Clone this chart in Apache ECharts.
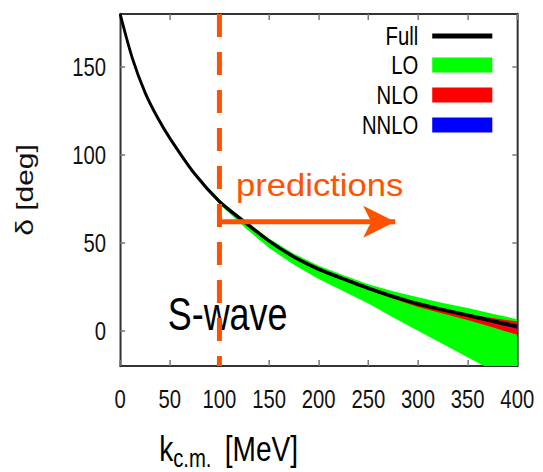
<!DOCTYPE html>
<html><head><meta charset="utf-8">
<script src="https://cdn.jsdelivr.net/npm/echarts@6/dist/echarts.min.js"></script>
<style>
html,body{margin:0;padding:0;background:#fff;overflow:hidden;width:543px;height:472px}
#c{width:696px;height:472px;transform:scaleX(0.7802);transform-origin:0 0}
</style>
</head><body><div id="c"></div>
<script>
// ---- data ----
const xs       = [0, 12.5, 25, 37.5, 50, 75, 100, 125, 150, 175, 200, 225, 250, 275, 300, 325, 350, 375, 400];
const fullVals = [180, 154.5, 135.5, 121.3, 109.5, 89.2, 73.5, 62, 51, 42, 35, 29.5, 24.2, 19.5, 15.3, 12, 8.8, 5.6, 2.4];
const loLow    = [180, 154.5, 135.5, 121.2, 109.3, 88.7, 72, 59, 47, 37.5, 29.5, 22.5, 15.5, 7.5, 0, -7.5, -15, -22.5, -30];
const loHigh   = [180, 154.5, 135.6, 121.5, 109.8, 89.8, 74.5, 63, 52.5, 43.8, 37, 31.5, 26.5, 22.5, 19, 15.8, 12.9, 9.7, 6.6];
const nloLow   = [180, 154.5, 135.5, 121.3, 109.5, 89, 73.2, 61.6, 50.5, 41.4, 34.3, 28.6, 23.2, 18.2, 13.5, 9.8, 6.2, 2, -2.3];
const nloHigh  = [180, 154.5, 135.5, 121.3, 109.5, 89.2, 73.6, 62.1, 51.1, 42.2, 35.3, 29.8, 24.6, 20, 15.9, 12.6, 9.6, 7.3, 5.3];
const nnloLow  = [180, 154.5, 135.5, 121.3, 109.5, 89.2, 73.4, 61.9, 50.9, 41.9, 34.9, 29.3, 24, 19.2, 14.8, 11.4, 8, 4.6, 1.2];
const nnloHigh = [180, 154.5, 135.5, 121.3, 109.5, 89.2, 73.6, 62.1, 51.1, 42.1, 35.1, 29.7, 24.5, 19.8, 15.6, 12.5, 9.4, 6.4, 3.6];
const xTicks   = [0, 50, 100, 150, 200, 250, 300, 350, 400];
const yTicks   = [0, 50, 100, 150];
const cutX     = 100;            // dashed line position
const arrowY   = 62;             // predictions arrow
const arrowX   = [100, 277];

const ORANGE = '#ff5200';
const FONT = '"Liberation Sans", Arial, Helvetica, sans-serif';

function pairs(a) { return xs.map((x, i) => [x, a[i]]); }
function band(name, lo, hi, color) {
  return {
    type: 'custom', name: name, silent: true, clip: true,
    itemStyle: { color: color },
    data: xs.map((x, i) => [x, lo[i], hi[i]]),
    encode: { x: 0, y: [1, 2] },
    renderItem: function (params, api) {
      if (params.dataIndexInside !== 0) return null;
      const n = params.dataInsideLength;
      const pts = [];
      for (let i = 0; i < n; i++) pts.push(api.coord([api.value(0, i), api.value(2, i)]));
      for (let i = n - 1; i >= 0; i--) pts.push(api.coord([api.value(0, i), api.value(1, i)]));
      const cs = params.coordSys;
      return {
        type: 'polygon', shape: { points: pts },
        style: { fill: color, stroke: null },
        clipPath: { type: 'rect', shape: { x: cs.x, y: cs.y, width: cs.width, height: cs.height } }
      };
    }
  };
}

const labelStyle = { fontSize: 26, fontFamily: FONT, color: '#111' };
function xAx(pos, showLabel) {
  return {
    type: 'value', position: pos, min: 0, max: 400, interval: 50,
    axisLine: { show: true, onZero: false, lineStyle: { color: '#333', width: 2 } },
    axisTick: { show: true, inside: true, length: 6, customValues: xTicks, lineStyle: { color: '#777', width: 1.9 } },
    axisLabel: showLabel ? Object.assign({ margin: 20, customValues: xTicks }, labelStyle) : { show: false },
    splitLine: { show: false }
  };
}
function yAx(pos, showLabel) {
  const o = {
    type: 'value', position: pos, min: -20, max: 180,
    axisLine: { show: true, onZero: false, lineStyle: { color: '#333', width: 2.6 } },
    axisTick: { show: true, inside: true, length: 6.4, customValues: yTicks, lineStyle: { color: '#777', width: 1.5 } },
    axisLabel: showLabel ? Object.assign({ margin: 18, customValues: yTicks,
      formatter: v => (yTicks.indexOf(v) >= 0 ? String(v) : '') }, labelStyle) : { show: false },
    splitLine: { show: false }
  };
  if (showLabel) {
    o.name = 'δ [deg]'; o.nameLocation = 'middle'; o.nameGap = 107; o.nameRotate = 90;
    o.nameTextStyle = { fontSize: 30, fontFamily: FONT, color: '#111' };
  }
  return o;
}

const chart = echarts.init(document.getElementById('c'), null, { renderer: 'svg' });
chart.setOption({
  animation: false,
  backgroundColor: '#fff',
  grid: { left: 154, right: 33, top: 14, bottom: 106, outerBoundsMode: 'none' },
  xAxis: [xAx('bottom', true), xAx('top', false)],
  yAxis: [yAx('left', true), yAx('right', false)],
  legend: [
    { orient: 'vertical', right: 65, top: 23, padding: 0, align: 'right', itemWidth: 77, itemHeight: 5,
      itemGap: 4, selectedMode: false,
      textStyle: { fontSize: 26, fontFamily: FONT, color: '#000', lineHeight: 25, padding: [0, 13, 0, 0] },
      data: [{ name: 'Full', icon: 'rect' }] },
    { orient: 'vertical', right: 65, top: 52, padding: 0, align: 'right', itemWidth: 77, itemHeight: 15,
      itemGap: 4, selectedMode: false,
      textStyle: { fontSize: 26, fontFamily: FONT, color: '#000', lineHeight: 25, padding: [0, 13, 0, 0] },
      data: [{ name: 'LO', icon: 'rect' }, { name: 'NLO', icon: 'rect' }, { name: 'NNLO', icon: 'rect' }] }
  ],
  series: [
    band('LO', loLow, loHigh, '#00ff00'),
    band('NLO', nloLow, nloHigh, '#ff0000'),
    band('NNLO', nnloLow, nnloHigh, '#0000ff'),
    { type: 'line', name: 'Full', data: pairs(fullVals), smooth: 0.3, symbol: 'none', silent: true,
      itemStyle: { color: '#000' }, lineStyle: { color: '#000', width: 3.6 } },
    { type: 'line', name: 'cut', data: [[cutX, 180], [cutX, -20]], symbol: 'none', silent: true,
      lineStyle: { color: ORANGE, width: 6.4, type: [23, 15] }, z: 5 },
    { type: 'line', name: 'arrow', silent: true, z: 5,
      data: [{ value: [arrowX[0], arrowY], symbol: 'none' },
             { value: [arrowX[1], arrowY], symbol: 'arrow', symbolSize: [24, 41], symbolRotate: -90 }],
      showSymbol: true, showAllSymbol: true, itemStyle: { color: ORANGE },
      lineStyle: { color: ORANGE, width: 5 } }
  ],
  graphic: [
    { type: 'text', x: 302.5, y: 169.5, scaleX: 1.43, silent: true,
      style: { text: 'predictions', font: '31px ' + FONT, fill: ORANGE, verticalAlign: 'top' } },
    { type: 'text', x: 215, y: 291, silent: true,
      style: { text: 'S-wave', font: '46px ' + FONT, fill: '#000', verticalAlign: 'top' } },
    { type: 'text', x: 204, y: 431, silent: true,
      style: { text: 'k', font: '36px ' + FONT, fill: '#000', verticalAlign: 'top' } },
    { type: 'text', x: 222, y: 445, silent: true,
      style: { text: 'c.m.', font: '26px ' + FONT, fill: '#000', verticalAlign: 'top' } },
    { type: 'text', x: 288, y: 431, silent: true,
      style: { text: '[MeV]', font: '36px ' + FONT, fill: '#000', verticalAlign: 'top' } }
  ]
});
</script>
</body></html>
